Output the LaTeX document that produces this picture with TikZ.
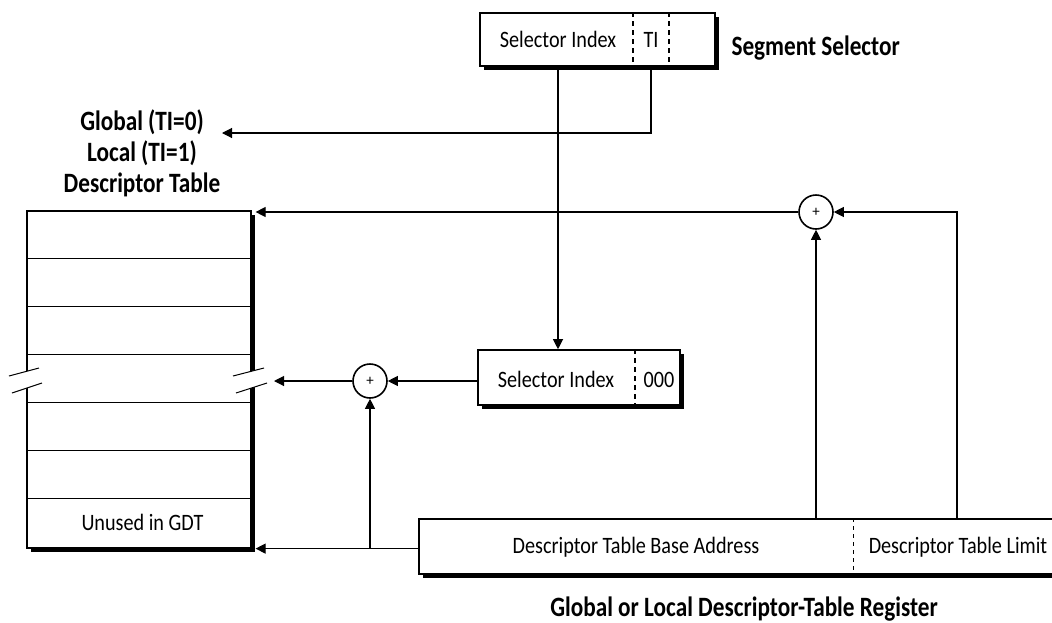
\documentclass[tikz,border=0pt]{standalone}
\usepackage{fontspec}
\setmainfont{Carlito}
\newfontfamily\lblfont[FakeStretch=0.86]{Carlito}
\newfontfamily\ttlfont[FakeStretch=0.83]{Carlito}
\usetikzlibrary{arrows.meta, positioning, shadows, calc}

\tikzset{
  field/.style={draw, line width=1.6pt, fill=white, inner sep=0pt,
    drop shadow={shadow xshift=4pt, shadow yshift=-4pt, fill=black, opacity=1}},
  adder/.style={draw, circle, line width=1.6pt, minimum size=34pt, inner sep=0pt,
    fill=white, font=\fontsize{15}{15}\selectfont},
  conn/.style={line width=1.1pt, -{Triangle[length=10pt,width=10pt]}},
  sep/.style={line width=1.8pt, dash pattern=on 5pt off 4pt},
  thinsep/.style={line width=0.8pt, dash pattern=on 4pt off 4pt},
  title/.style={anchor=base, font=\ttlfont\fontsize{28}{32}\selectfont\bfseries},
  lbl/.style={anchor=base, font=\lblfont\fontsize{23.5}{27}\selectfont}
}

\begin{document}
\begin{tikzpicture}[x=1pt,y=-1pt]
\useasboundingbox (0,0) rectangle (1052,622);
\clip (0,0) rectangle (1052,622);

% segment selector
\node[field, minimum width=235pt, minimum height=53pt] (sel) at (597.5,39.5) {};
\node[lbl] (selIdx) at (558,47) {Selector Index};
\node[lbl] (ti) at (651,47) {TI};
\draw[sep] (633,0 |- sel.north) -- (633,0 |- sel.south);
\draw[sep] (669,0 |- sel.north) -- (669,0 |- sel.south);
\node[title, anchor=base west] (segLbl) at (728,55) {Segment Selector};

% table labels
\node[title] (glob) at (142,130) {Global (TI=0)};
\node[title] (loc) at (142,161) {Local (TI=1)};
\node[title] (dtab) at (142,192) {Descriptor Table};
\coordinate (gtip) at (222,133);

% descriptor table
\node[field, minimum width=224pt, minimum height=337pt, anchor=north west] (tbl) at (26,210) {};
\foreach \r in {1,...,6}
  \draw[line width=1pt] ($(tbl.north west)+(0,48.14*\r)$) -- ($(tbl.north east)+(0,48.14*\r)$);
\node[lbl] (unused) at (142.5,530) {Unused in GDT};
% break marks
\fill[white] (9,376) -- (39,368) -- (42,383) -- (12,393) -- cycle;
\fill[white] (233,376) -- (264,368) -- (267,383) -- (236,393) -- cycle;
\draw[line width=1pt] (9,376) -- (39,368) (12,393) -- (42,383);
\draw[line width=1pt] (233,376) -- (264,368) (236,393) -- (267,383);
\coordinate (brk) at (274,381);
\coordinate (tblTop) at ($(tbl.north east)+(4,0)$);
\coordinate (tblLow) at ($(tbl.south east)+(4,0)$);

% index with zeroed TI/RPL
\node[field, minimum width=202pt, minimum height=55pt] (idx) at (579,377.5) {};
\node[lbl] (idxTxt) at (556,387) {Selector Index};
\node[lbl] (zeros) at (659,387) {000};
\draw[sep] (635,0 |- idx.north) -- (635,0 |- idx.south);

% adders
\node[adder] (addA) at (370,381) {+};
\node[adder] (addB) at (816,212) {+};

% descriptor-table register
\node[field, minimum width=700pt, minimum height=55pt, anchor=north west] (gdtr) at (418,518) {};
\node[lbl] (base) at (636,553) {Descriptor Table Base Address};
\node[lbl] (lim) at (958,553) {Descriptor Table Limit};
\draw[thinsep] (853,0 |- gdtr.north) -- (853,0 |- gdtr.south);
\node[title] (regLbl) at (744,616) {Global or Local Descriptor-Table Register};

% connectors
\draw[conn] (selIdx |- sel.south) -- (selIdx |- idx.north);
\draw[conn] (ti |- sel.south) |- (gtip);
\draw[conn] (idx.west |- addA) -- (addA.east);
\draw[conn] (addA.west) -- (brk);
\draw[conn] (gdtr.west |- tblLow) -- (tblLow);
\draw[conn] (addA |- tblLow) -- (addA.south);
\draw[conn] (addB |- gdtr.north) -- (addB.south);
\draw[conn] (957,0 |- gdtr.north) |- (addB.east);
\draw[conn] (addB.west) -- (addB.west -| tblTop);
\end{tikzpicture}
\end{document}
